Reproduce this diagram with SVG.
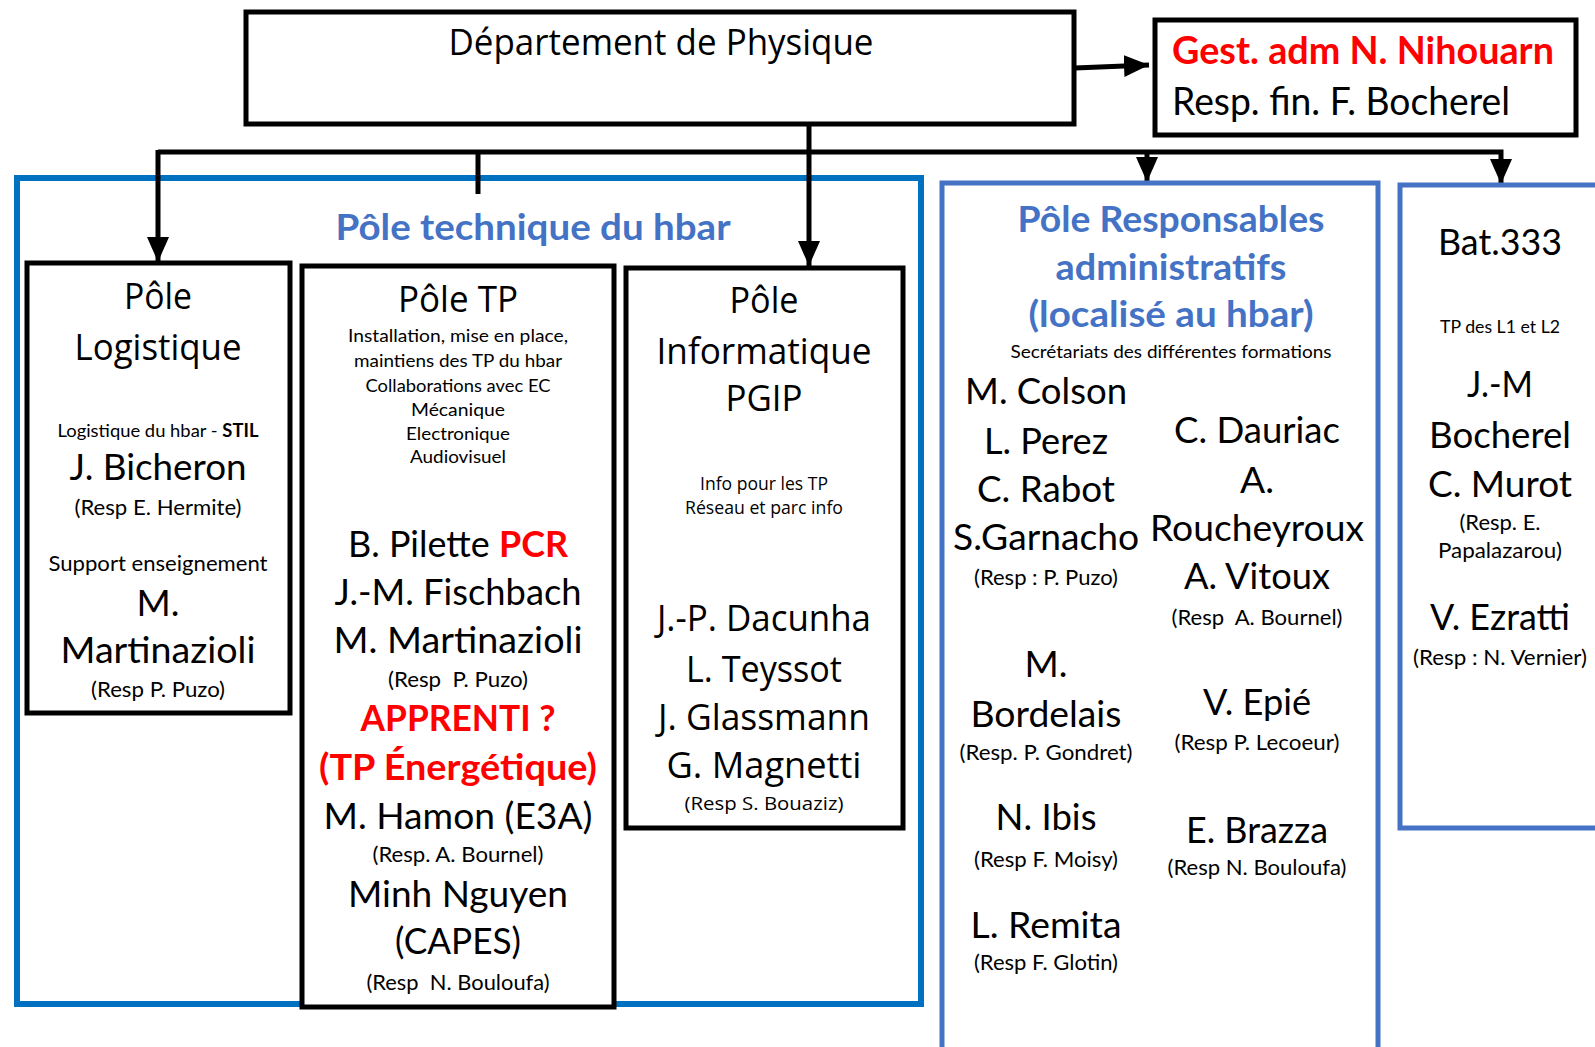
<svg xmlns="http://www.w3.org/2000/svg" width="1595" height="1047" viewBox="0 0 1595 1047">
<style>
.box{fill:#fff;stroke:#000;stroke-width:5}
.bluebig{fill:none;stroke:#0070C0;stroke-width:6}
.blue{fill:none;stroke:#4472C4;stroke-width:5}
.conn{fill:none;stroke:#000;stroke-width:5}
text{font-family:Lato,"Liberation Sans",sans-serif;fill:#000;text-anchor:middle}
.os{font-family:"Open Sans","Noto Sans",sans-serif}
.big{font-size:36px}
.mid{font-size:21px}
.sm{font-size:18px}
.red{fill:#FF0000;font-weight:bold}
.title{fill:#4472C4;font-weight:bold;font-size:37px}
.left{text-anchor:start}
</style>
<defs>
<marker id="arr" markerWidth="5" markerHeight="4.4" refX="5" refY="2.2" orient="auto" markerUnits="strokeWidth">
<path d="M0,0 L5,2.2 L0,4.4 Z" fill="#000"/>
</marker>
</defs>
<rect width="1595" height="1047" fill="#fff"/>

<g id="pole-technique-frame">
<rect class="bluebig" x="17" y="178" width="904" height="826"/>
<text class="title" x="533" y="240" textLength="395" lengthAdjust="spacingAndGlyphs">Pôle technique du hbar</text>
</g>

<g id="connectors">
<line class="conn" x1="809" y1="118" x2="809" y2="266" marker-end="url(#arr)"/>
<polyline class="conn" points="158,152 1501,152 1501,184" marker-end="url(#arr)"/>
<line class="conn" x1="158" y1="150" x2="158" y2="262" marker-end="url(#arr)"/>
<line class="conn" x1="478" y1="152" x2="478" y2="194"/>
<line class="conn" x1="1147" y1="152" x2="1147" y2="182" marker-end="url(#arr)"/>
<line class="conn" x1="1075" y1="68" x2="1149" y2="65" marker-end="url(#arr)"/>
</g>

<g id="departement">
<rect class="box" x="246" y="12" width="828" height="112"/>
<text class="os" x="661" y="55" font-size="36" textLength="425" lengthAdjust="spacingAndGlyphs">Département de Physique</text>
</g>

<g id="gestion">
<rect class="box" x="1155" y="20" width="421" height="115"/>
<text class="left red" x="1172" y="64" font-size="38" textLength="382" lengthAdjust="spacingAndGlyphs">Gest. adm N. Nihouarn</text>
<text class="left" x="1172" y="115" font-size="38" textLength="338" lengthAdjust="spacingAndGlyphs">Resp. fin. F. Bocherel</text>
</g>

<g id="pole-logistique">
<rect class="box" x="27" y="263" width="263" height="450"/>
<text class="os big" x="158" y="309" textLength="68" lengthAdjust="spacingAndGlyphs">Pôle</text>
<text class="os big" x="158" y="360" textLength="167" lengthAdjust="spacingAndGlyphs">Logistique</text>
<text class="sm" x="158" y="437" textLength="201" lengthAdjust="spacingAndGlyphs">Logistique du hbar - <tspan font-weight="bold">STIL</tspan></text>
<text class="big" x="158" y="480" textLength="177" lengthAdjust="spacingAndGlyphs">J. Bicheron</text>
<text class="mid" x="158" y="515" textLength="167" lengthAdjust="spacingAndGlyphs">(Resp E. Hermite)</text>
<text class="mid" x="158" y="571" textLength="219" lengthAdjust="spacingAndGlyphs">Support enseignement</text>
<text class="big" x="158" y="616" textLength="43" lengthAdjust="spacingAndGlyphs">M.</text>
<text class="big" x="158" y="663" textLength="195" lengthAdjust="spacingAndGlyphs">Martinazioli</text>
<text class="mid" x="158" y="697" textLength="134" lengthAdjust="spacingAndGlyphs">(Resp P. Puzo)</text>
</g>

<g id="pole-tp">
<rect class="box" x="302" y="266" width="312" height="741"/>
<text class="os big" x="458" y="312" textLength="120" lengthAdjust="spacingAndGlyphs">Pôle TP</text>
<text class="sm" x="458" y="342" textLength="220" lengthAdjust="spacingAndGlyphs">Installation, mise en place,</text>
<text class="sm" x="458" y="367" textLength="208" lengthAdjust="spacingAndGlyphs">maintiens des TP du hbar</text>
<text class="sm" x="458" y="392" textLength="185" lengthAdjust="spacingAndGlyphs">Collaborations avec EC</text>
<text class="sm" x="458" y="416" textLength="94" lengthAdjust="spacingAndGlyphs">Mécanique</text>
<text class="sm" x="458" y="440" textLength="104" lengthAdjust="spacingAndGlyphs">Electronique</text>
<text class="sm" x="458" y="463" textLength="96" lengthAdjust="spacingAndGlyphs">Audiovisuel</text>
<text class="big" x="458" y="557" textLength="220" lengthAdjust="spacingAndGlyphs">B. Pilette <tspan class="red">PCR</tspan></text>
<text class="big" x="458" y="605" textLength="247" lengthAdjust="spacingAndGlyphs">J.-M. Fischbach</text>
<text class="big" x="458" y="653" textLength="249" lengthAdjust="spacingAndGlyphs">M. Martinazioli</text>
<text class="mid" x="458" y="687" textLength="140" lengthAdjust="spacingAndGlyphs" xml:space="preserve">(Resp  P. Puzo)</text>
<text class="big red" x="458" y="731" textLength="195" lengthAdjust="spacingAndGlyphs">APPRENTI ?</text>
<text class="big red" x="458" y="780" textLength="278" lengthAdjust="spacingAndGlyphs">(TP Énergétique)</text>
<text class="big" x="458" y="829" textLength="269" lengthAdjust="spacingAndGlyphs">M. Hamon (E3A)</text>
<text class="mid" x="458" y="862" textLength="171" lengthAdjust="spacingAndGlyphs">(Resp. A. Bournel)</text>
<text class="big" x="458" y="907" textLength="220" lengthAdjust="spacingAndGlyphs">Minh Nguyen</text>
<text class="big" x="458" y="954" textLength="126" lengthAdjust="spacingAndGlyphs">(CAPES)</text>
<text class="mid" x="458" y="990" textLength="183" lengthAdjust="spacingAndGlyphs" xml:space="preserve">(Resp  N. Bouloufa)</text>
</g>

<g id="pole-informatique">
<rect class="box" x="626" y="268" width="277" height="560"/>
<text class="os big" x="764" y="313" textLength="69" lengthAdjust="spacingAndGlyphs">Pôle</text>
<text class="os big" x="764" y="364" textLength="215" lengthAdjust="spacingAndGlyphs">Informatique</text>
<text class="os big" x="764" y="411" textLength="77" lengthAdjust="spacingAndGlyphs">PGIP</text>
<text class="os sm" x="764" y="490" font-size="17" textLength="128" lengthAdjust="spacingAndGlyphs">Info pour les TP</text>
<text class="os sm" x="764" y="514" font-size="17" textLength="158" lengthAdjust="spacingAndGlyphs">Réseau et parc info</text>
<text class="os big" x="764" y="631" textLength="214" lengthAdjust="spacingAndGlyphs">J.-P. Dacunha</text>
<text class="os big" x="764" y="682" textLength="156" lengthAdjust="spacingAndGlyphs">L. Teyssot</text>
<text class="os big" x="764" y="730" textLength="212" lengthAdjust="spacingAndGlyphs">J. Glassmann</text>
<text class="os big" x="764" y="778" textLength="195" lengthAdjust="spacingAndGlyphs">G. Magnetti</text>
<text class="os" x="764" y="810" font-size="19" textLength="159" lengthAdjust="spacingAndGlyphs">(Resp S. Bouaziz)</text>
</g>

<g id="pole-responsables">
<rect class="blue" x="942" y="183" width="436" height="880"/>
<text class="title" x="1171" y="232" textLength="307" lengthAdjust="spacingAndGlyphs">Pôle Responsables</text>
<text class="title" x="1171" y="280" textLength="231" lengthAdjust="spacingAndGlyphs">administratifs</text>
<text class="title" x="1171" y="327" textLength="285" lengthAdjust="spacingAndGlyphs">(localisé au hbar)</text>
<text class="sm" x="1171" y="358" textLength="321" lengthAdjust="spacingAndGlyphs">Secrétariats des différentes formations</text>
<text class="big" x="1046" y="404" textLength="162" lengthAdjust="spacingAndGlyphs">M. Colson</text>
<text class="big" x="1046" y="454" textLength="124" lengthAdjust="spacingAndGlyphs">L. Perez</text>
<text class="big" x="1046" y="502" textLength="138" lengthAdjust="spacingAndGlyphs">C. Rabot</text>
<text class="big" x="1046" y="550" textLength="186" lengthAdjust="spacingAndGlyphs">S.Garnacho</text>
<text class="mid" x="1046" y="585" textLength="144" lengthAdjust="spacingAndGlyphs">(Resp : P. Puzo)</text>
<text class="big" x="1046" y="677" textLength="43" lengthAdjust="spacingAndGlyphs">M.</text>
<text class="big" x="1046" y="727" textLength="151" lengthAdjust="spacingAndGlyphs">Bordelais</text>
<text class="mid" x="1046" y="760" textLength="173" lengthAdjust="spacingAndGlyphs">(Resp. P. Gondret)</text>
<text class="big" x="1046" y="830" textLength="101" lengthAdjust="spacingAndGlyphs">N. Ibis</text>
<text class="mid" x="1046" y="867" textLength="144" lengthAdjust="spacingAndGlyphs">(Resp F. Moisy)</text>
<text class="big" x="1046" y="938" textLength="151" lengthAdjust="spacingAndGlyphs">L. Remita</text>
<text class="mid" x="1046" y="970" textLength="144" lengthAdjust="spacingAndGlyphs">(Resp F. Glotin)</text>
<text class="big" x="1257" y="443" textLength="166" lengthAdjust="spacingAndGlyphs">C. Dauriac</text>
<text class="big" x="1257" y="493" textLength="34" lengthAdjust="spacingAndGlyphs">A.</text>
<text class="big" x="1257" y="541" textLength="214" lengthAdjust="spacingAndGlyphs">Roucheyroux</text>
<text class="big" x="1257" y="589" textLength="146" lengthAdjust="spacingAndGlyphs">A. Vitoux</text>
<text class="mid" x="1257" y="625" textLength="171" lengthAdjust="spacingAndGlyphs" xml:space="preserve">(Resp  A. Bournel)</text>
<text class="big" x="1257" y="715" textLength="108" lengthAdjust="spacingAndGlyphs">V. Epié</text>
<text class="mid" x="1257" y="750" textLength="165" lengthAdjust="spacingAndGlyphs">(Resp P. Lecoeur)</text>
<text class="big" x="1257" y="843" textLength="142" lengthAdjust="spacingAndGlyphs">E. Brazza</text>
<text class="mid" x="1257" y="875" textLength="179" lengthAdjust="spacingAndGlyphs">(Resp N. Bouloufa)</text>
</g>

<g id="bat-333">
<rect class="blue" x="1400" y="185" width="220" height="643"/>
<text class="big" x="1500" y="255" textLength="124" lengthAdjust="spacingAndGlyphs">Bat.333</text>
<text class="sm" x="1500" y="333" font-size="17" textLength="120" lengthAdjust="spacingAndGlyphs">TP des L1 et L2</text>
<text class="big" x="1500" y="397" textLength="66" lengthAdjust="spacingAndGlyphs">J.-M</text>
<text class="big" x="1500" y="448" textLength="142" lengthAdjust="spacingAndGlyphs">Bocherel</text>
<text class="big" x="1500" y="497" textLength="144" lengthAdjust="spacingAndGlyphs">C. Murot</text>
<text class="mid" x="1500" y="530" font-size="19" textLength="81" lengthAdjust="spacingAndGlyphs">(Resp. E.</text>
<text class="mid" x="1500" y="558" font-size="19" textLength="124" lengthAdjust="spacingAndGlyphs">Papalazarou)</text>
<text class="big" x="1500" y="630" textLength="140" lengthAdjust="spacingAndGlyphs">V. Ezratti</text>
<text class="mid" x="1500" y="665" textLength="174" lengthAdjust="spacingAndGlyphs">(Resp : N. Vernier)</text>
</g>
</svg>
